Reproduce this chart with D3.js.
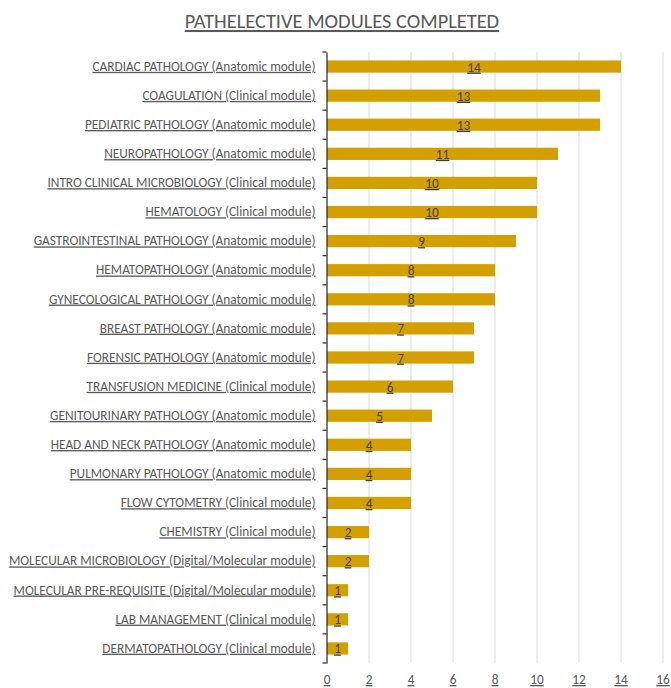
<!DOCTYPE html>
<html>
<head>
<meta charset="utf-8">
<script src="https://cdn.jsdelivr.net/npm/d3@7"></script>
<style>
  body { margin: 0; background: #fff; }
  text { font-family: Carlito, Calibri, Lato, sans-serif; }
</style>
</head>
<body>
<svg id="canvas" width="671" height="688"></svg>
<script>
// chart data
let modules = [
  'CARDIAC PATHOLOGY (Anatomic module)',
  'COAGULATION (Clinical module)',
  'PEDIATRIC PATHOLOGY (Anatomic module)',
  'NEUROPATHOLOGY (Anatomic module)',
  'INTRO CLINICAL MICROBIOLOGY (Clinical module)',
  'HEMATOLOGY (Clinical module)',
  'GASTROINTESTINAL PATHOLOGY (Anatomic module)',
  'HEMATOPATHOLOGY (Anatomic module)',
  'GYNECOLOGICAL PATHOLOGY (Anatomic module)',
  'BREAST PATHOLOGY (Anatomic module)',
  'FORENSIC PATHOLOGY (Anatomic  module)',
  'TRANSFUSION MEDICINE (Clinical module)',
  'GENITOURINARY PATHOLOGY (Anatomic module)',
  'HEAD AND NECK PATHOLOGY (Anatomic module)',
  'PULMONARY PATHOLOGY (Anatomic module)',
  'FLOW CYTOMETRY (Clinical module)',
  'CHEMISTRY (Clinical module)',
  'MOLECULAR MICROBIOLOGY (Digital/Molecular module)',
  'MOLECULAR PRE-REQUISITE (Digital/Molecular module)',
  'LAB MANAGEMENT (Clinical module)',
  'DERMATOPATHOLOGY (Clinical module)'
];
let completed = [14, 13, 13, 11, 10, 10, 9, 8, 8, 7, 7, 6, 5, 4, 4, 4, 2, 2, 1, 1, 1];
let xTicks = [0, 2, 4, 6, 8, 10, 12, 14, 16];
let chartTitle = 'PATHELECTIVE MODULES COMPLETED';

let canvas = d3.select('#canvas');
let plotLeft = 327, plotRight = 663, plotTop = 52, plotBottom = 663;

let x = d3.scaleLinear().domain([0, 16]).range([plotLeft, plotRight]);
let y = d3.scaleBand().domain(modules).range([plotTop, plotBottom]).paddingInner(0.58).paddingOuter(0.29);

// gridlines
canvas.append('g')
  .selectAll('line')
  .data(xTicks.slice(1))
  .enter()
  .append('line')
  .attr('x1', d => x(d)).attr('x2', d => x(d))
  .attr('y1', plotTop).attr('y2', plotBottom)
  .attr('stroke', '#d9d9d9')
  .attr('stroke-width', 1);

// bars
canvas.append('g')
  .selectAll('rect')
  .data(modules)
  .enter()
  .append('rect')
  .attr('x', x(0))
  .attr('y', d => y(d))
  .attr('width', (d, i) => x(completed[i]) - x(0))
  .attr('height', y.bandwidth())
  .attr('fill', '#d4a000');

// value labels
canvas.append('g')
  .selectAll('text')
  .data(modules)
  .enter()
  .append('text')
  .attr('x', (d, i) => (x(0) + x(completed[i])) / 2)
  .attr('y', d => y(d) + y.bandwidth() / 2 + 5)
  .attr('text-anchor', 'middle')
  .attr('font-size', 13.3)
  .attr('fill', '#404040')
  .attr('text-decoration', 'underline')
  .text((d, i) => completed[i]);

// y axis
let yAxis = canvas.append('g')
  .attr('transform', 'translate(' + (plotLeft - 0.5) + ',0)')
  .call(d3.axisLeft(y).tickSize(0).tickPadding(11));
yAxis.select('.domain').attr('stroke', '#262626').attr('stroke-width', 1.2);
yAxis.selectAll('text')
  .attr('font-size', 13.3)
  .attr('fill', '#595959')
  .attr('text-decoration', 'underline')
  .style('font-family', 'Carlito, Calibri, Lato, sans-serif');
// tick marks between categories
yAxis.selectAll('.sep')
  .data(d3.range(modules.length + 1))
  .enter()
  .append('line')
  .attr('class', 'sep')
  .attr('x1', -4).attr('x2', 0)
  .attr('y1', i => plotTop + i * y.step())
  .attr('y2', i => plotTop + i * y.step())
  .attr('stroke', '#262626')
  .attr('stroke-width', 1.2);

// x axis labels
canvas.append('g')
  .selectAll('text')
  .data(xTicks)
  .enter()
  .append('text')
  .attr('x', d => x(d))
  .attr('y', 684)
  .attr('text-anchor', 'middle')
  .attr('font-size', 13.3)
  .attr('fill', '#595959')
  .attr('text-decoration', 'underline')
  .text(d => d);

// title
canvas.append('text')
  .attr('x', 342)
  .attr('y', 28)
  .attr('text-anchor', 'middle')
  .attr('font-size', 20.4)
  .attr('fill', '#595959')
  .attr('text-decoration', 'underline')
  .text(chartTitle);
</script>
</body>
</html>
